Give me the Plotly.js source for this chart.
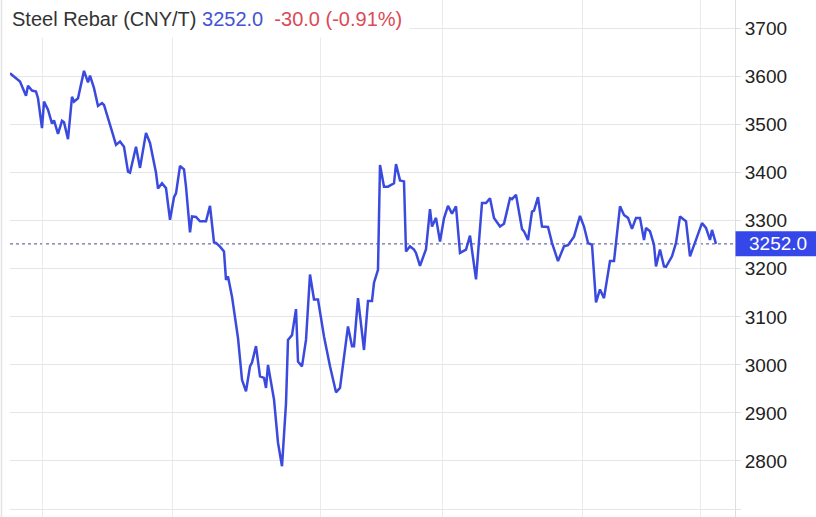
<!DOCTYPE html>
<html>
<head>
<meta charset="utf-8">
<script src="https://cdn.plot.ly/plotly-3.0.1.min.js"></script>
<style>
html,body{margin:0;padding:0;background:#fff;overflow:hidden;}
#chart{width:816px;height:517px;}
</style>
</head>
<body>
<div id="chart"></div>
<script>
// Day offsets (calendar days from start of window) and closing prices (CNY/T)
const days = [5,10,13,14,16,18,19,21,22,24,26,27,29,31,32,34,36,37,39,42,44,45,47,49,51,52,56,58,60,62,64,65,68,70,73,75,78,79,81,83,85,87,88,90,92,93,95,96,98,100,103,105,107,108,110,112,113,114,116,118,119,121,123,125,126,128,130,132,133,134,137,139,141,143,144,146,148,149,151,153,155,157,159,162,165,168,170,174,176,177,179,182,184,186,187,189,190,192,194,197,198,200,202,203,205,207,208,210,213,215,216,218,220,222,224,226,228,230,233,235,236,238,241,243,245,247,250,252,255,256,258,261,262,264,266,267,269,271,274,276,279,282,284,287,290,292,294,296,298,300,302,305,307,309,310,312,314,316,318,320,322,323,325,327,328,330,332,333,336,338,340,342,343,345,348,349,351,353,355,356,358];
const prices = [3607,3590,3560,3581,3571,3569,3555,3493,3548,3531,3502,3509,3481,3508,3505,3470,3558,3548,3555,3612,3588,3602,3576,3539,3545,3541,3486,3458,3465,3454,3402,3400,3454,3410,3483,3462,3400,3367,3378,3368,3302,3349,3357,3414,3407,3371,3276,3309,3308,3299,3299,3331,3255,3254,3246,3236,3177,3184,3142,3091,3056,2969,2945,2997,3005,3039,2976,2973,2952,3000,2928,2838,2789,2920,3052,3062,3116,3007,2997,3052,3188,3136,3136,3059,2997,2943,2952,3080,3039,3039,3139,3031,3133,3133,3171,3198,3416,3371,3371,3378,3418,3384,3382,3236,3247,3240,3233,3206,3241,3324,3288,3306,3257,3305,3331,3315,3330,3233,3240,3269,3240,3178,3337,3337,3347,3306,3288,3294,3347,3345,3354,3283,3278,3260,3319,3321,3349,3288,3287,3254,3216,3247,3249,3267,3310,3288,3254,3250,3130,3157,3139,3216,3216,3292,3330,3312,3306,3283,3306,3306,3260,3285,3278,3250,3205,3240,3205,3204,3226,3254,3309,3302,3299,3226,3262,3275,3295,3285,3260,3281,3252];
const gridDays = [21,86,160,221,291,350];
const priceTicks = [2700,2800,2900,3000,3100,3200,3300,3400,3500,3600,3700];
const priceTickText = ['','2800','2900','3000','3100','3200','3300','3400','3500','3600','3700'];
const lastPrice = 3252.0;
const change = -30.0;
const changePct = -0.91;
const seriesName = 'Steel Rebar (CNY/T)';

const lineBlue = '#3b4ade';
const font = 'Liberation Sans, Arial, Helvetica, sans-serif';
const plotW = 725;

const trace = {
  x: days, y: prices, type: 'scatter', mode: 'lines',
  line: {color: lineBlue, width: 2.5, shape: 'linear'},
  hoverinfo: 'skip'
};

const layout = {
  width: 816, height: 517,
  margin: {l: 10, r: 81, t: 0, b: 0, pad: 0},
  paper_bgcolor: '#ffffff', plot_bgcolor: '#ffffff',
  showlegend: false,
  font: {family: font, color: '#222'},
  xaxis: {
    range: [5, 367.5], tickvals: gridDays, ticktext: gridDays.map(() => ''),
    showgrid: true, gridcolor: '#ebebeb', gridwidth: 1,
    showline: false, zeroline: false, ticks: '', fixedrange: true
  },
  yaxis: {
    side: 'right', range: [2683.4, 3759.5],
    tickvals: priceTicks, ticktext: priceTickText,
    showgrid: true, gridcolor: '#e6e6e6', gridwidth: 1,
    showline: true, linecolor: '#dedede', linewidth: 1, mirror: false,
    ticks: 'outside', ticklen: 5, tickcolor: '#e3e3e3',
    ticklabelstandoff: 0,
    tickfont: {family: font, size: 19, color: '#222'},
    zeroline: false, fixedrange: true
  },
  shapes: [
    {type: 'line', xref: 'paper', x0: 0, x1: 1, yref: 'y', y0: lastPrice, y1: lastPrice,
     line: {color: '#6c72a8', width: 1.2, dash: 'dot'}, layer: 'below'},
    {type: 'line', xref: 'paper', x0: -8.5/plotW, x1: -8.5/plotW, yref: 'paper', y0: 0, y1: 1,
     line: {color: '#e2e2e2', width: 1.5}},
    {type: 'rect', xref: 'paper', x0: 1 + 0.5/plotW, x1: 1 + 82/plotW, yref: 'y',
     y0: lastPrice - 26, y1: lastPrice + 26, fillcolor: '#3547e8', line: {width: 0}}
  ],
  annotations: [
    {xref: 'paper', yref: 'paper', x: -6/plotW, y: 1, xanchor: 'left', yanchor: 'top',
     align: 'left', showarrow: false, bgcolor: '#ffffff', borderpad: 7,
     text: seriesName + ' <span style="color:#4453d6">' + lastPrice.toFixed(1) + '</span>  ' +
           '<span style="color:#db4a55">' + change.toFixed(1) + ' (' + changePct.toFixed(2) + '%)</span>',
     font: {family: font, size: 20, color: '#333'}},
    {xref: 'paper', yref: 'y', x: 1 + 12/plotW, y: lastPrice, xanchor: 'left', yanchor: 'middle',
     align: 'left', showarrow: false,
     text: lastPrice.toFixed(1), font: {family: font, size: 19, color: '#ffffff'}}
  ]
};

Plotly.newPlot('chart', [trace], layout, {displayModeBar: false, staticPlot: true});
</script>
</body>
</html>
